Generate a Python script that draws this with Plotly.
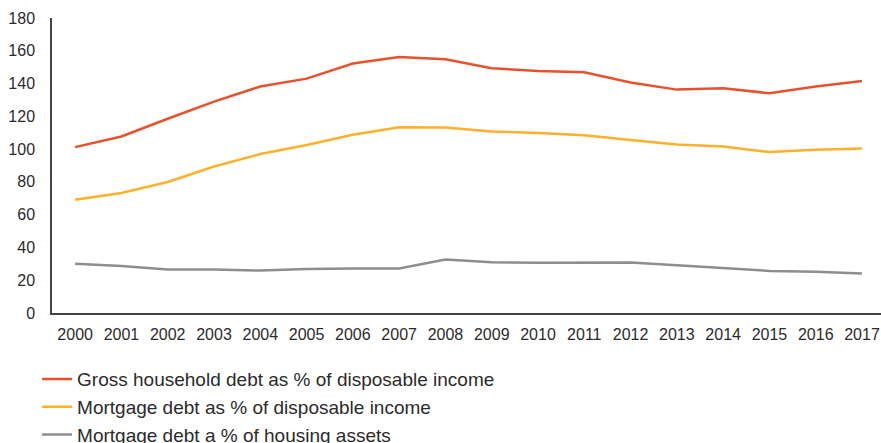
import plotly.graph_objects as go

years = list(range(2000, 2018))

gross_debt_income = [101.2, 107.7, 118.5, 129.0, 138.2, 143.0, 152.2, 156.2, 154.8,
                     149.3, 147.7, 146.9, 140.6, 136.3, 137.2, 134.1, 138.2, 141.6]
mortgage_debt_income = [69.1, 73.2, 79.9, 89.4, 97.0, 102.5, 108.7, 113.4, 113.2,
                        110.7, 109.9, 108.5, 105.5, 102.8, 101.6, 98.2, 99.6, 100.4]
mortgage_debt_assets = [30.0, 28.7, 26.5, 26.5, 25.9, 26.9, 27.1, 27.1, 32.6,
                        30.9, 30.6, 30.9, 30.8, 29.1, 27.3, 25.7, 25.1, 24.1]

series_names = [
    "Gross household debt as % of disposable income",
    "Mortgage debt as % of disposable income",
    "Mortgage debt a % of housing assets",
]
series_colors = ["#E8512C", "#FDB12A", "#8E8E90"]
y_ticks = list(range(0, 181, 20))

fig = go.Figure()
for name, values, color in zip(series_names,
                               [gross_debt_income, mortgage_debt_income, mortgage_debt_assets],
                               series_colors):
    fig.add_trace(go.Scatter(x=years, y=values, name=name, mode="lines",
                             line=dict(color=color, width=2.5)))

font_family = "Liberation Sans, Arial, sans-serif"

fig.update_layout(
    width=881, height=443,
    margin=dict(l=52, r=0, t=18, b=130, autoexpand=False),
    paper_bgcolor="white", plot_bgcolor="white",
    font=dict(family=font_family, size=16, color="#2b2b2b"),
    showlegend=True,
    legend=dict(
        x=-0.018, y=-0.16, xanchor="left", yanchor="top",
        font=dict(size=19, color="#2b2b2b"),
        bgcolor="rgba(0,0,0,0)",
        itemwidth=30,
        tracegroupgap=0,
    ),
    xaxis=dict(
        range=[1999.5, 2017.41],
        tickmode="array", tickvals=years, ticktext=[str(y) for y in years],
        tickangle=0,
        showgrid=False, zeroline=False,
        showline=True, linecolor="#444444", linewidth=1.5,
        ticks="", ticklabelstandoff=6,
        tickfont=dict(size=16, color="#2b2b2b"),
        fixedrange=True,
    ),
    yaxis=dict(
        range=[0, 180],
        tickmode="array", tickvals=y_ticks,
        showgrid=False, zeroline=False,
        showline=True, linecolor="#444444", linewidth=1.5,
        ticks="", ticklabelstandoff=12,
        tickfont=dict(size=16, color="#2b2b2b"),
        fixedrange=True,
    ),
)

fig.write_html("out.html")
